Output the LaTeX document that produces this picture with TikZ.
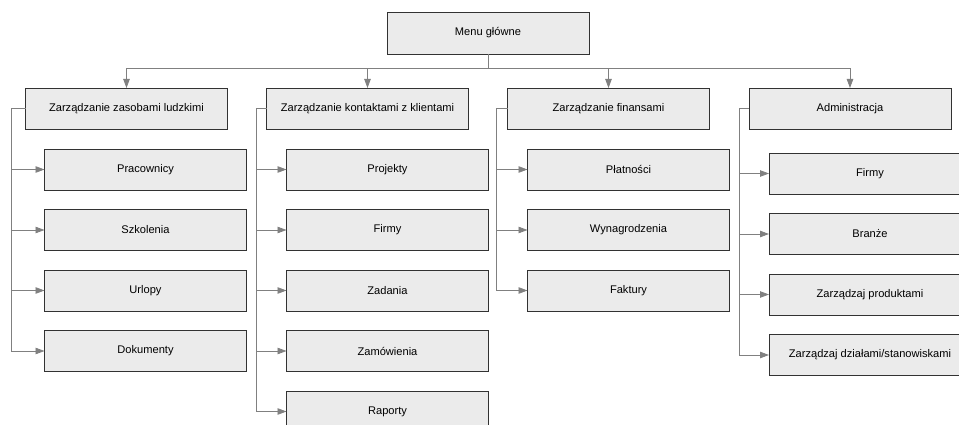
\documentclass[tikz,border=0pt]{standalone}
\usepackage{fontspec}
\setmainfont{Liberation Sans}
\usepackage{tikz}
\usetikzlibrary{positioning,arrows.meta}
\definecolor{boxfill}{RGB}{235, 235, 235}
\definecolor{boxline}{RGB}{50, 50, 50}
\definecolor{linkgray}{RGB}{128, 128, 128}

\begin{document}
\begin{tikzpicture}[
    x=1pt, y=-1pt,
    node distance=19.5pt,
    every node/.style={align=center, font=\fontsize{11.1}{13}\selectfont},
    menubox/.style={rectangle, minimum width=202pt, minimum height=41pt, inner sep=0pt, outer sep=0pt, draw=boxline, fill=boxfill, line width=0.8pt},
    link/.style={draw=linkgray, line width=0.8pt},
    arrow/.style={link, -{Triangle[length=9pt, width=6.5pt]}, color=linkgray}
]
\useasboundingbox (0,0) rectangle (959,425);
\clip (0,0) rectangle (959,425);

% Main menu
\node[menubox, minimum height=42pt] (menu) at (488,33) {Menu główne};

% Sections
\node[menubox] (hr) at (126.5,108.5) {Zarządzanie zasobami ludzkimi};
\node[menubox] (crm) at (367.5,108.5) {Zarządzanie kontaktami z klientami};
\node[menubox] (fin) at (608.5,108.5) {Zarządzanie finansami};
\node[menubox] (adm) at (850,108.5) {Administracja};

% Sub-items
\node[menubox, anchor=north west] (hr_staff) at ([xshift=19pt, yshift=-20pt]hr.south west) {Pracownicy};
\node[menubox, below=of hr_staff] (hr_train) {Szkolenia};
\node[menubox, below=of hr_train] (hr_leave) {Urlopy};
\node[menubox, below=of hr_leave] (hr_docs) {Dokumenty};

\node[menubox, anchor=north west] (crm_proj) at ([xshift=20pt, yshift=-20pt]crm.south west) {Projekty};
\node[menubox, below=of crm_proj] (crm_firms) {Firmy};
\node[menubox, below=of crm_firms] (crm_tasks) {Zadania};
\node[menubox, below=of crm_tasks] (crm_orders) {Zamówienia};
\node[menubox, below=of crm_orders] (crm_reports) {Raporty};

\node[menubox, anchor=north west] (fin_pay) at ([xshift=20pt, yshift=-20pt]fin.south west) {Płatności};
\node[menubox, below=of fin_pay] (fin_wages) {Wynagrodzenia};
\node[menubox, below=of fin_wages] (fin_inv) {Faktury};

\node[menubox, anchor=north west] (adm_firms) at ([xshift=20pt, yshift=-24pt]adm.south west) {Firmy};
\node[menubox, below=of adm_firms] (adm_branch) {Branże};
\node[menubox, below=of adm_branch] (adm_prod) {Zarządzaj produktami};
\node[menubox, below=of adm_prod] (adm_dept) {Zarządzaj działami/stanowiskami};

% Connections
\draw[link] (menu.south) -- ++(0,-14pt) coordinate (bus);
\foreach \sec in {hr, crm, fin, adm}
    \draw[arrow] (bus) -| (\sec.north);

\draw[link] (hr.west) -- ++(-14pt,0) coordinate (hr_t);
\draw[link] (crm.west) -- ++(-10pt,0) coordinate (crm_t);
\draw[link] (fin.west) -- ++(-11pt,0) coordinate (fin_t);
\draw[link] (adm.west) -- ++(-10pt,0) coordinate (adm_t);

\foreach \item in {hr_staff, hr_train, hr_leave, hr_docs}
    \draw[arrow] (hr_t) |- (\item.west);
\foreach \item in {crm_proj, crm_firms, crm_tasks, crm_orders, crm_reports}
    \draw[arrow] (crm_t) |- (\item.west);
\foreach \item in {fin_pay, fin_wages, fin_inv}
    \draw[arrow] (fin_t) |- (\item.west);
\foreach \item in {adm_firms, adm_branch, adm_prod, adm_dept}
    \draw[arrow] (adm_t) |- (\item.west);

\end{tikzpicture}
\end{document}
